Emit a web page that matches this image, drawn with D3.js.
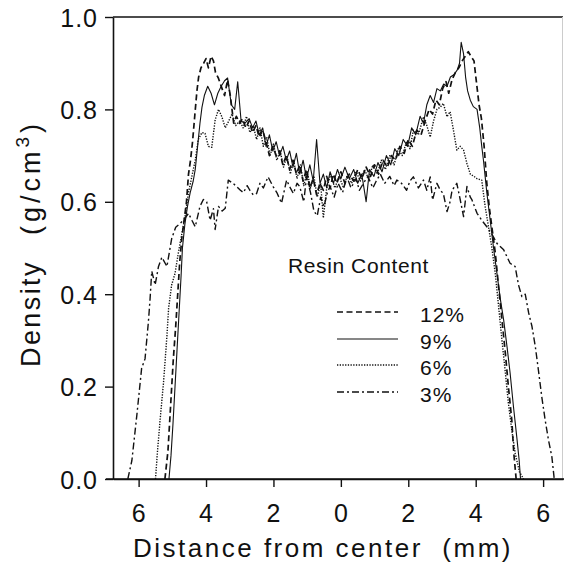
<!DOCTYPE html>
<html>
<head>
<meta charset="utf-8">
<script src="https://cdn.jsdelivr.net/npm/d3@7/dist/d3.min.js"></script>
<style>
  html, body { margin: 0; padding: 0; background: #fff; }
  svg { display: block; }
  text { font-family: "Liberation Sans", Arial, Helvetica, sans-serif; fill: #111; }
</style>
</head>
<body>
<svg id="chart" width="564" height="568"></svg>
<script>
// ---- data (distance from center in mm: left side negative, density g/cm3) ----
const xTicks = [-6, -4, -2, 0, 2, 4, 6];
const yTicks = [0, 0.2, 0.4, 0.6, 0.8, 1.0];
const seriesNames = ["12%", "9%", "6%", "3%"];

const s12 = [[-5.22,0],[-5.13,0.06],[-5.05,0.16],[-4.97,0.26],[-4.90,0.33],[-4.84,0.40],[-4.78,0.47],[-4.72,0.52],[-4.65,0.56],[-4.58,0.60],[-4.52,0.66],[-4.46,0.69],[-4.40,0.73],[-4.33,0.79],[-4.27,0.84],[-4.22,0.87],[-4.15,0.89],[-4.07,0.90],[-4.00,0.91],[-3.93,0.89],[-3.85,0.915],[-3.78,0.905],[-3.72,0.88],[-3.63,0.867],[-3.53,0.846],[-3.45,0.83],[-3.36,0.864],[-3.28,0.83],[-3.18,0.77],[-3.10,0.785],[-3.00,0.77],[-2.92,0.78],[-2.82,0.76],[-2.72,0.775],[-2.62,0.75],[-2.52,0.765],[-2.42,0.74],[-2.32,0.755],[-2.22,0.73],[-2.12,0.70],[-2.02,0.72],[-1.92,0.70],[-1.82,0.71],[-1.72,0.68],[-1.62,0.70],[-1.52,0.67],[-1.42,0.69],[-1.32,0.66],[-1.22,0.68],[-1.12,0.645],[-1.02,0.67],[-0.92,0.63],[-0.82,0.65],[-0.72,0.615],[-0.62,0.64],[-0.52,0.625],[-0.42,0.655],[-0.32,0.63],[-0.22,0.66],[-0.12,0.64],[0,0.665],[0.12,0.64],[0.25,0.66],[0.38,0.645],[0.5,0.67],[0.62,0.65],[0.75,0.675],[0.88,0.655],[1.0,0.68],[1.12,0.66],[1.25,0.69],[1.38,0.675],[1.5,0.70],[1.62,0.69],[1.75,0.72],[1.88,0.705],[2.0,0.735],[2.12,0.72],[2.25,0.755],[2.38,0.745],[2.5,0.775],[2.62,0.80],[2.72,0.79],[2.82,0.82],[2.92,0.81],[3.02,0.845],[3.12,0.86],[3.2,0.835],[3.3,0.865],[3.4,0.88],[3.5,0.89],[3.6,0.905],[3.68,0.914],[3.78,0.925],[3.86,0.915],[3.95,0.905],[4.02,0.86],[4.1,0.81],[4.17,0.78],[4.25,0.72],[4.33,0.64],[4.4,0.59],[4.48,0.545],[4.58,0.49],[4.68,0.416],[4.78,0.344],[4.88,0.272],[4.97,0.2],[5.07,0.128],[5.13,0.056],[5.2,0]];

const s9 = [[-5.10,0],[-5.04,0.05],[-4.98,0.12],[-4.92,0.2],[-4.86,0.28],[-4.80,0.36],[-4.74,0.44],[-4.70,0.50],[-4.63,0.55],[-4.55,0.59],[-4.47,0.62],[-4.38,0.645],[-4.32,0.67],[-4.25,0.72],[-4.18,0.77],[-4.12,0.805],[-4.05,0.83],[-3.95,0.85],[-3.85,0.835],[-3.75,0.81],[-3.65,0.835],[-3.55,0.85],[-3.45,0.862],[-3.36,0.868],[-3.25,0.81],[-3.15,0.80],[-3.06,0.86],[-2.96,0.775],[-2.85,0.77],[-2.72,0.78],[-2.62,0.76],[-2.52,0.775],[-2.42,0.745],[-2.32,0.76],[-2.22,0.72],[-2.12,0.745],[-2.02,0.71],[-1.92,0.73],[-1.82,0.70],[-1.72,0.72],[-1.62,0.69],[-1.52,0.71],[-1.42,0.675],[-1.32,0.705],[-1.22,0.66],[-1.12,0.69],[-1.02,0.65],[-0.92,0.68],[-0.82,0.645],[-0.72,0.735],[-0.62,0.64],[-0.52,0.66],[-0.42,0.63],[-0.32,0.665],[-0.22,0.64],[-0.1,0.67],[0,0.65],[0.12,0.675],[0.25,0.65],[0.38,0.67],[0.5,0.64],[0.62,0.66],[0.75,0.60],[0.85,0.67],[0.98,0.655],[1.1,0.685],[1.22,0.665],[1.35,0.70],[1.48,0.68],[1.6,0.715],[1.72,0.70],[1.85,0.735],[1.98,0.72],[2.1,0.76],[2.22,0.745],[2.35,0.785],[2.45,0.77],[2.55,0.81],[2.65,0.83],[2.75,0.815],[2.85,0.845],[2.95,0.84],[3.05,0.855],[3.15,0.85],[3.25,0.87],[3.35,0.875],[3.45,0.885],[3.52,0.9],[3.57,0.945],[3.64,0.92],[3.7,0.87],[3.76,0.84],[3.84,0.82],[3.93,0.806],[4.04,0.80],[4.12,0.76],[4.18,0.72],[4.23,0.69],[4.28,0.655],[4.33,0.62],[4.43,0.56],[4.53,0.50],[4.63,0.445],[4.73,0.39],[4.83,0.344],[4.93,0.286],[5.02,0.23],[5.12,0.157],[5.22,0.09],[5.29,0.04],[5.33,0]];

const s6 = [[-5.50,0],[-5.44,0.06],[-5.36,0.13],[-5.26,0.21],[-5.16,0.31],[-5.11,0.37],[-5.02,0.42],[-4.92,0.445],[-4.82,0.49],[-4.72,0.53],[-4.62,0.57],[-4.52,0.62],[-4.42,0.655],[-4.32,0.69],[-4.23,0.735],[-4.12,0.75],[-4.03,0.748],[-3.93,0.72],[-3.83,0.718],[-3.73,0.777],[-3.63,0.80],[-3.53,0.784],[-3.43,0.76],[-3.34,0.773],[-3.23,0.79],[-3.12,0.765],[-3.0,0.775],[-2.9,0.76],[-2.8,0.785],[-2.7,0.75],[-2.6,0.765],[-2.5,0.735],[-2.4,0.76],[-2.3,0.72],[-2.2,0.74],[-2.1,0.70],[-2.0,0.725],[-1.9,0.69],[-1.8,0.71],[-1.7,0.675],[-1.6,0.70],[-1.5,0.66],[-1.4,0.69],[-1.3,0.65],[-1.2,0.68],[-1.1,0.635],[-1.0,0.665],[-0.9,0.63],[-0.8,0.655],[-0.7,0.61],[-0.6,0.64],[-0.52,0.565],[-0.42,0.63],[-0.3,0.66],[-0.18,0.63],[-0.05,0.655],[0.08,0.63],[0.2,0.66],[0.32,0.64],[0.45,0.665],[0.58,0.645],[0.7,0.67],[0.82,0.65],[0.95,0.68],[1.08,0.66],[1.2,0.69],[1.32,0.67],[1.45,0.70],[1.58,0.68],[1.7,0.715],[1.82,0.70],[1.95,0.73],[2.05,0.715],[2.15,0.755],[2.3,0.745],[2.45,0.784],[2.55,0.765],[2.65,0.74],[2.75,0.775],[2.85,0.80],[2.95,0.805],[3.04,0.813],[3.15,0.784],[3.24,0.795],[3.34,0.755],[3.44,0.712],[3.54,0.72],[3.64,0.712],[3.74,0.683],[3.84,0.66],[3.95,0.655],[4.04,0.65],[4.18,0.647],[4.28,0.59],[4.38,0.546],[4.48,0.50],[4.58,0.445],[4.68,0.373],[4.78,0.30],[4.88,0.23],[4.97,0.164],[5.07,0.106],[5.17,0.056],[5.3,0.015],[5.42,0]];

const s3 = [[-6.32,0],[-6.2,0.04],[-6.05,0.14],[-5.91,0.24],[-5.81,0.26],[-5.71,0.34],[-5.66,0.39],[-5.61,0.45],[-5.51,0.42],[-5.41,0.46],[-5.31,0.48],[-5.16,0.46],[-5.02,0.52],[-4.9,0.545],[-4.82,0.55],[-4.67,0.56],[-4.52,0.575],[-4.42,0.56],[-4.32,0.546],[-4.18,0.59],[-4.08,0.605],[-3.98,0.60],[-3.88,0.56],[-3.78,0.585],[-3.73,0.54],[-3.63,0.59],[-3.52,0.58],[-3.43,0.586],[-3.34,0.647],[-3.2,0.64],[-3.09,0.633],[-2.98,0.625],[-2.89,0.62],[-2.78,0.635],[-2.7,0.625],[-2.6,0.615],[-2.5,0.618],[-2.4,0.64],[-2.3,0.63],[-2.16,0.654],[-2.01,0.633],[-1.9,0.62],[-1.76,0.597],[-1.61,0.647],[-1.5,0.63],[-1.41,0.618],[-1.3,0.64],[-1.22,0.633],[-1.1,0.60],[-1.02,0.654],[-0.9,0.62],[-0.8,0.58],[-0.7,0.57],[-0.6,0.61],[-0.5,0.59],[-0.4,0.62],[-0.32,0.633],[-0.2,0.61],[-0.08,0.64],[0.05,0.62],[0.18,0.654],[0.3,0.63],[0.45,0.65],[0.55,0.625],[0.67,0.64],[0.8,0.655],[0.95,0.63],[1.05,0.645],[1.17,0.66],[1.3,0.64],[1.45,0.655],[1.58,0.635],[1.66,0.647],[1.8,0.64],[1.95,0.625],[2.05,0.645],[2.15,0.654],[2.3,0.63],[2.45,0.647],[2.55,0.625],[2.65,0.654],[2.72,0.604],[2.85,0.64],[2.95,0.625],[3.04,0.618],[3.15,0.579],[3.24,0.60],[3.3,0.625],[3.44,0.64],[3.54,0.605],[3.64,0.568],[3.74,0.633],[3.84,0.61],[3.89,0.604],[4.04,0.575],[4.18,0.56],[4.33,0.546],[4.48,0.53],[4.63,0.51],[4.83,0.496],[5.02,0.467],[5.17,0.46],[5.27,0.42],[5.37,0.395],[5.47,0.40],[5.57,0.36],[5.67,0.33],[5.77,0.286],[5.86,0.236],[5.96,0.178],[6.06,0.128],[6.16,0.084],[6.26,0.048],[6.33,0]];

const seriesData = [s12, s9, s6, s3];

// ---- styles ----
const styles = [
  { dash: "6,3.5", width: 1.7 },
  { dash: null, width: 1.1 },
  { dash: "1.3,1.4", width: 1.4 },
  { dash: "7,3,2,3", width: 1.4 }
];

const svg = d3.select("#chart");
const x = d3.scaleLinear().domain([-6.76, 6.59]).range([113, 563]);
const y = d3.scaleLinear().domain([0, 1]).range([479, 17]);

// frame: top and faint right border
svg.append("line").attr("x1", 113).attr("x2", 563).attr("y1", y(1)).attr("y2", y(1))
  .attr("stroke", "#111").attr("stroke-width", 1.6);
svg.append("line").attr("x1", 562.5).attr("x2", 562.5).attr("y1", y(1)).attr("y2", y(0))
  .attr("stroke", "#ccc").attr("stroke-width", 1);
svg.append("line").attr("x1", 106).attr("x2", 564).attr("y1", y(0)).attr("y2", y(0))
  .attr("stroke", "#111").attr("stroke-width", 1.6);

// axes
const xAxis = svg.append("g").attr("transform", `translate(0,${y(0)})`)
  .call(d3.axisBottom(x).tickValues(xTicks).tickFormat(d => Math.abs(d)).tickSize(8).tickSizeOuter(0));
const yAxis = svg.append("g").attr("transform", `translate(${x.range()[0]},0)`)
  .call(d3.axisLeft(y).tickValues(yTicks).tickFormat(d3.format(".1f")).tickSize(8).tickSizeOuter(0));

[xAxis, yAxis].forEach(g => {
  g.select(".domain").attr("stroke", "#111").attr("stroke-width", 1.6);
  g.selectAll(".tick line").attr("stroke", "#111").attr("stroke-width", 1.4);
  g.selectAll(".tick text").attr("font-size", 25).attr("fill", "#111")
    .style("letter-spacing", "1px")
    .attr("font-family", '"Liberation Sans", Arial, Helvetica, sans-serif');
});
xAxis.selectAll(".tick text").attr("dy", 0).attr("y", 43);
yAxis.selectAll(".tick text").attr("x", -15).attr("dy", "0.36em");

// axis titles
svg.append("text").attr("x", 133).attr("y", 557).attr("font-size", 26)
  .style("letter-spacing", "2.5px")
  .text("Distance from center\u00a0\u00a0(mm)");

svg.append("text").attr("transform", "translate(40,367) rotate(-90)")
  .attr("font-size", 27).style("letter-spacing", "2.4px").text("Density");
const yt = svg.append("text").attr("transform", "translate(40,235) rotate(-90)")
  .attr("font-size", 27).style("letter-spacing", "4px");
yt.append("tspan").text("(g/cm");
yt.append("tspan").attr("font-size", 19).attr("dy", -11).text("3");
yt.append("tspan").attr("dy", 11).text(")");

// curves
const line = d3.line().x(d => x(d[0])).y(d => y(d[1]));
seriesData.forEach((s, i) => {
  svg.append("path").datum(s).attr("d", line).attr("fill", "none")
    .attr("stroke", "#111").attr("stroke-width", styles[i].width)
    .attr("stroke-dasharray", styles[i].dash).attr("stroke-linejoin", "round");
});

// legend
svg.append("text").attr("x", 288).attr("y", 273).attr("font-size", 21)
  .style("letter-spacing", "0.6px").text("Resin Content");
const legY = [312, 339, 365, 392];
seriesNames.forEach((n, i) => {
  svg.append("line").attr("x1", 337).attr("x2", 398).attr("y1", legY[i]).attr("y2", legY[i])
    .attr("stroke", "#111").attr("stroke-width", styles[i].width)
    .attr("stroke-dasharray", styles[i].dash);
  svg.append("text").attr("x", 420).attr("y", legY[i] + 10).attr("font-size", 21)
    .style("letter-spacing", "1px").text(n);
});
</script>
</body>
</html>
